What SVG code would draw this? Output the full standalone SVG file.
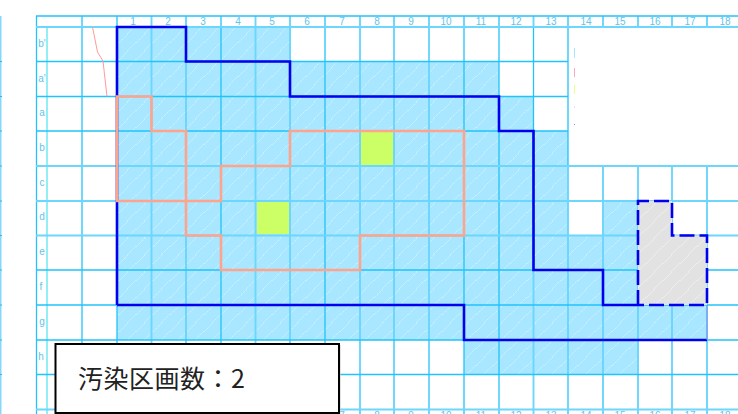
<svg xmlns="http://www.w3.org/2000/svg" width="738" height="414" viewBox="0 0 738 414">
<style>
.lbl{font-family:"Liberation Sans",Arial,sans-serif;font-size:10px;fill:#62c4ec;text-anchor:middle}
.g1{stroke:#22c2fa;stroke-width:1.3;fill:none}
.g2{stroke:#6cd6fc;stroke-width:1.9;fill:none}
.out{stroke:#0000f0;stroke-width:2.6;fill:none}
.sal{stroke:#ffa48c;stroke-width:2.6;fill:none}
</style>
<defs>
<pattern id="h" width="17" height="17" patternUnits="userSpaceOnUse">
<rect width="17" height="17" fill="#a8e7ff"/>
<path d="M-2 11L11 -2M6 19L19 6" stroke="#d4f4ff" stroke-width=".9" stroke-dasharray="1.5 .8"/>
</pattern>
<pattern id="hg" width="17" height="17" patternUnits="userSpaceOnUse">
<rect width="17" height="17" fill="#e2e2e2"/>
<path d="M-2 11L11 -2M6 19L19 6" stroke="#eeeeee" stroke-width=".9"/>
</pattern>
</defs>
<rect width="738" height="414" fill="#fff"/>
<g id="hatch">
<path fill="url(#h)" d="M117 27H290V61H499V96.500H533.500V131H568V235.500H603V201H638V305H707V340H638V374.500H464V340H117Z"/>
<rect x="361" y="132" width="33" height="33" fill="#ccff66"/>
<rect x="257" y="201" width="33" height="33" fill="#ccff66"/>
</g>
<g id="grid">
<path stroke="#8eeef5" stroke-width="1.9" fill="none" d="M47 27V414"/>
<path stroke="#86d8f8" stroke-width="2" fill="none" d="M0.500 16V414"/>
<path stroke="#30b8e8" stroke-width="1" fill="none" d="M0 61.500H2M0 96.500H2M0 131H2M0 166H2M0 201H2M0 235.500H2M0 270H2M0 305H2M0 340H2M0 374.500H2"/>
<path class="g2" d="M82 16V414M151.500 27V414M186 27V414M255.500 27V414M290 27V414M360 27V414M394 27V414M429 27V414M533.500 131V414M568 166V414M603 166V414M638 166V414M672 166V414M707 166V414"/>
<path class="g1" d="M36.500 16V414M117 16V414M221 27V414M325 27V414M464 27V414M499 27V414M533.500 27V131M568 27V166"/>
<path class="g2" d="M151.500 16V27M186 16V27M221 16V27M255.500 16V27M290 16V27M325 16V27M360 16V27M394 16V27M429 16V27M464 16V27M499 16V27M533.500 16V27M568 16V27M603 16V27M638 16V27M672 16V27M707 16V27"/>
<path class="g1" d="M36 16H738M36 61.500H568M36 96.500H568M36 131H568M36 270H738M36 305H738M36 340H738M36 374.500H738"/>
<path class="g2" d="M36 27H738M36 166H738M36 201H738M36 235.500H738M36 409.500H738"/>
<path fill="url(#hg)" d="M638 201H672V235.500H707V305H638Z"/>
</g>
<g id="labels">
<text class="lbl" x="133" y="25">1</text><text class="lbl" x="168" y="25">2</text><text class="lbl" x="203" y="25">3</text><text class="lbl" x="238" y="25">4</text><text class="lbl" x="272" y="25">5</text><text class="lbl" x="307" y="25">6</text><text class="lbl" x="342" y="25">7</text><text class="lbl" x="377" y="25">8</text><text class="lbl" x="411" y="25">9</text><text class="lbl" x="446" y="25">10</text><text class="lbl" x="481" y="25">11</text><text class="lbl" x="516" y="25">12</text><text class="lbl" x="551" y="25">13</text><text class="lbl" x="586" y="25">14</text><text class="lbl" x="620" y="25">15</text><text class="lbl" x="655" y="25">16</text><text class="lbl" x="690" y="25">17</text><text class="lbl" x="725" y="25">18</text>
<text class="lbl" x="42" y="47">b'</text><text class="lbl" x="42" y="82">a'</text><text class="lbl" x="42" y="116">a</text><text class="lbl" x="42" y="151">b</text><text class="lbl" x="42" y="186">c</text><text class="lbl" x="42" y="220">d</text><text class="lbl" x="42" y="255">e</text><text class="lbl" x="41" y="290">f</text><text class="lbl" x="42" y="325">g</text><text class="lbl" x="41" y="360">h</text>
<text class="lbl" x="342" y="419">7</text><text class="lbl" x="377" y="419">8</text><text class="lbl" x="411" y="419">9</text><text class="lbl" x="446" y="419">10</text><text class="lbl" x="481" y="419">11</text><text class="lbl" x="516" y="419">12</text><text class="lbl" x="551" y="419">13</text><text class="lbl" x="586" y="419">14</text><text class="lbl" x="620" y="419">15</text><text class="lbl" x="655" y="419">16</text><text class="lbl" x="690" y="419">17</text><text class="lbl" x="725" y="419">18</text>
</g>
<g id="marks">
<path d="M92.500 27L97.500 52L103 61L107 96.500" stroke="#ff9a9a" fill="none" stroke-width="1"/>
<path d="M574.500 48V58" stroke="#a8e6ff"/><path d="M574.500 68V77" stroke="#ffa8b8"/><path d="M574.500 85V94" stroke="#e8ff90"/><path d="M574.500 106V108" stroke="#ffd8e8"/><path d="M574.500 124V125" stroke="#8888ff"/>
</g>
<g id="connectors">
<path class="out" d="M117 305V27H186V61.500H290V96.500H499V131H533.500V270H603V305H638"/>
<path class="out" d="M117 305H464V340H707"/>
<path d="M707 305V340" stroke="#8888ee" stroke-width="1" fill="none"/>
<path class="out" stroke-dasharray="15 5" d="M638 305V201H672V235.500H707V305H638"/>
<path class="sal" d="M117 96.500H151.500V131H186V235.500H221V270H360V235.500H464V131H290V166H221V201H117Z"/>
</g>
<g id="countbox">
<path d="M340 345V414" stroke="#c8c8c8" fill="none"/>
<rect x="55.500" y="344" width="283.500" height="69" fill="#fff" stroke="#000" stroke-width="2"/>
<text x="78" y="388" font-family="'Noto Sans CJK JP','Liberation Sans',sans-serif" font-size="25" letter-spacing=".5" fill="#222">汚染区画数：2</text>
</g>
</svg>
